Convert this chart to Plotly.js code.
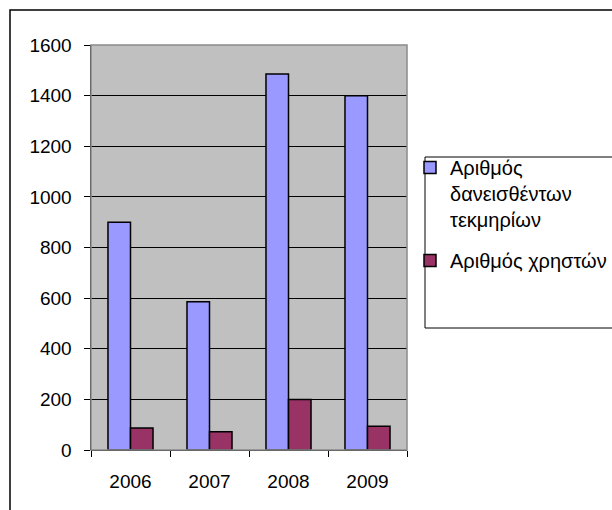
<!DOCTYPE html>
<html>
<head>
<meta charset="utf-8">
<script src="https://cdn.plot.ly/plotly-3.0.1.min.js"></script>
<style>html,body{margin:0;padding:0;background:#fff;}#chart{width:612px;height:510px;}</style>
</head>
<body>
<div id="chart"></div>
<script>
var years = ['2006', '2007', '2008', '2009'];
var seriesNames = ['Αριθμός<br>δανεισθέντων<br>τεκμηρίων', 'Αριθμός χρηστών'];
var borrowedItems = [900, 586, 1485, 1400];
var users = [87, 72, 200, 94];
var yTicks = [0, 200, 400, 600, 800, 1000, 1200, 1400, 1600];

var L = 91, R = 205, T = 45, B = 60, W = 612 - L - R, H = 510 - T - B;
function px(x) { return (x - L) / W; }
function py(y) { return (510 - B - y) / H; }

var traces = [
  {type: 'bar', x: years, y: borrowedItems, name: seriesNames[0], legendgroup: 'g1',
   marker: {color: '#9999FF', line: {color: '#000000', width: 1.5}}},
  {type: 'bar', x: years, y: users, name: seriesNames[1], legendgroup: 'g2',
   marker: {color: '#993366', line: {color: '#000000', width: 1.5}}}
];

var layout = {
  width: 612, height: 510,
  margin: {l: L, r: R, t: T, b: B, pad: 0, autoexpand: false},
  paper_bgcolor: '#ffffff',
  plot_bgcolor: '#C0C0C0',
  font: {family: 'Liberation Sans, Arial, sans-serif', size: 19, color: '#000000'},
  barmode: 'group', bargap: 0.43, bargroupgap: 0,
  showlegend: true,
  legend: {x: px(410), xanchor: 'left', y: py(148), yanchor: 'top', valign: 'top',
           bgcolor: 'rgba(0,0,0,0)', borderwidth: 0,
           font: {size: 20}, tracegroupgap: 12, itemwidth: 30},
  xaxis: {type: 'category', tickson: 'boundaries', ticks: 'outside', ticklen: 6,
          tickcolor: '#000', tickwidth: 1, showgrid: false, zeroline: false,
          showline: false, ticklabelstandoff: 18},
  yaxis: {range: [0, 1600], tickvals: yTicks, ticktext: yTicks.map(String),
          ticks: 'outside', ticklen: 6, tickcolor: '#000', tickwidth: 1,
          showgrid: true, gridcolor: '#000000', gridwidth: 1,
          zeroline: true, zerolinecolor: '#000', zerolinewidth: 1,
          showline: true, linecolor: '#000', linewidth: 1.5, ticklabelstandoff: 8},
  shapes: [
    {type: 'rect', xref: 'paper', yref: 'paper', x0: px(10), x1: px(700), y0: py(600), y1: py(10),
     line: {color: '#000', width: 1.5}, fillcolor: 'rgba(0,0,0,0)', layer: 'below'},
    {type: 'rect', xref: 'paper', yref: 'paper', x0: 0, x1: 1, y0: 0, y1: 1,
     line: {color: '#8a8a8a', width: 1.5}, fillcolor: 'rgba(0,0,0,0)', layer: 'above'},
    {type: 'rect', xref: 'paper', yref: 'paper', x0: px(425), x1: px(700), y0: py(328), y1: py(157),
     line: {color: '#000', width: 1}, fillcolor: 'rgba(0,0,0,0)', layer: 'below'}
  ]
};

Plotly.newPlot('chart', traces, layout, {displayModeBar: false, staticPlot: true});
</script>
</body>
</html>
